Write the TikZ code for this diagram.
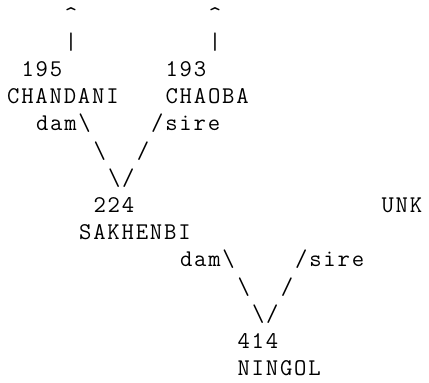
\documentclass[tikz,border=0pt]{standalone}
\usepackage{fontspec}
\setmonofont{Latin Modern Mono}[LetterSpace=7.5]
\begin{document}
\begin{tikzpicture}[x=14.4pt, y=-27.2pt,
  every node/.style={font=\ttfamily\fontsize{24pt}{27pt}\selectfont, inner sep=0pt, anchor=base west},
  link/.style={text=black},
  horse/.style={text=black}
]
  \useasboundingbox (-7pt,22pt) rectangle (422pt,-361pt);

  \node[link] (up1)  at (4,0)  {\textasciicircum};
  \node[link] (up2)  at (14,0) {\textasciicircum};
  \node[link] (bar1) at (4,1)  {|};
  \node[link] (bar2) at (14,1) {|};

  \node[horse] (n195)     at (1,2)  {195};
  \node[horse] (n193)     at (11,2) {193};
  \node[horse] (chandani) at (0,3)  {CHANDANI};
  \node[horse] (chaoba)   at (11,3) {CHAOBA};

  \node[link] (dam1)  at (2,4)  {dam\textbackslash};
  \node[link] (sire1) at (10,4) {/sire};
  \node[link] (l1)    at (6,5)  {\textbackslash};
  \node[link] (r1)    at (9,5)  {/};
  \node[link] (v1)    at (7,6)  {\textbackslash/};

  \node[horse] (n224)     at (6,7)  {224};
  \node[horse] (unk)      at (26,7) {UNK};
  \node[horse] (sakhenbi) at (5,8)  {SAKHENBI};

  \node[link] (dam2)  at (12,9)  {dam\textbackslash};
  \node[link] (sire2) at (20,9)  {/sire};
  \node[link] (l2)    at (16,10) {\textbackslash};
  \node[link] (r2)    at (19,10) {/};
  \node[link] (v2)    at (17,11) {\textbackslash/};

  \node[horse] (n414)   at (16,12) {414};
  \node[horse] (ningol) at (16,13) {NINGOL};
\end{tikzpicture}
\end{document}
